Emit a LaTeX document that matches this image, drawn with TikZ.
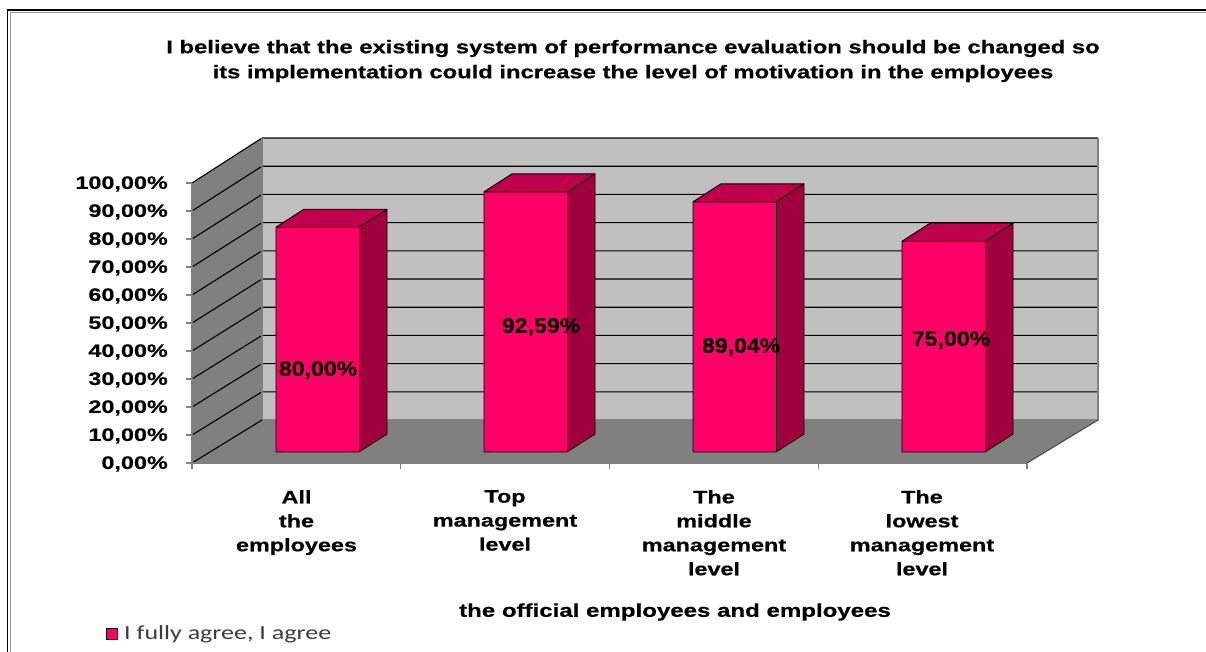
\documentclass[tikz,border=0pt]{standalone}
\usepackage{fontspec}
\newfontfamily\labf[FakeStretch=1.3,BoldFeatures={FakeBold=0.6}]{Liberation Sans}
\newfontfamily\barf[FakeStretch=1.1,BoldFeatures={FakeBold=0.6}]{Liberation Sans}
\newfontfamily\legf[FakeStretch=1.3]{Carlito}
\definecolor{wallback}{RGB}{192,192,192}
\definecolor{wallside}{RGB}{128,128,128}
\definecolor{floorc}{RGB}{128,128,128}
\definecolor{axisc}{RGB}{128,128,128}
\definecolor{barfront}{RGB}{255,0,102}
\definecolor{bartop}{RGB}{192,0,77}
\definecolor{barside}{RGB}{160,0,62}
\definecolor{legtext}{RGB}{60,60,60}
\tikzset{
  ylab/.style={anchor=east,inner sep=0pt,font=\labf\bfseries\fontsize{18}{18}\selectfont},
  catlab/.style={anchor=north,inner sep=0pt,align=center,font=\labf\bfseries\fontsize{18}{24}\selectfont},
  barlab/.style={inner sep=0pt,font=\barf\bfseries\fontsize{21}{21}\selectfont},
  grid3d/.style={black,line width=1.1pt},
  barface/.style={draw=black,line width=0.9pt,line join=round},
}
\begin{document}
\begin{tikzpicture}[x=1pt,y=-1pt]
\useasboundingbox (0,0) rectangle (1206,651);
\fill[white] (0,0) rectangle (1206,651);
% frame
\draw[black,line width=1.3pt] (7.5,700) -- (7.5,10) -- (1300,10);
\draw[gray!80,line width=1.3pt] (10.5,700) -- (10.5,12.5) -- (1300,12.5);
% title
\node[inner sep=0pt,align=center,font=\labf\bfseries\fontsize{18.3}{25}\selectfont] (title) at (633,61)
  {I believe that the existing system of performance evaluation should be changed so\\
   its implementation could increase the level of motivation in the employees};
% walls
\coordinate (f0) at (192,463);
\coordinate (f100) at (192,183);
\coordinate (b0) at (262,420);
\coordinate (b100) at (262,138);
\coordinate (br0) at (1098,420);
\coordinate (br100) at (1098,138);
\coordinate (fr0) at (1027,463);
\fill[wallside] (f0) -- (f100) -- (b100) -- (b0) -- cycle;
\fill[wallback] (b0) -- (b100) -- (br100) -- (br0) -- cycle;
\fill[floorc] (f0) -- (b0) -- (br0) -- (fr0) -- cycle;
% grid lines
\foreach \v in {10,20,...,100} {
  \draw[grid3d] (192,463-2.8*\v) -- (262,420-2.82*\v) -- (1098,420-2.82*\v);
}
\draw[axisc,line width=1.2pt] (b100) -- (b0) -- (br0) -- (br100);
\draw[black,line width=1.1pt] (f0) -- (b0);
\draw[axisc,line width=1.2pt] (b0) -- (br0);
\draw[black!70,line width=1.1pt] (br0) -- (fr0);
% axes
\draw[axisc,line width=1.3pt] (f100) -- (f0) -- (fr0);
\foreach \v in {0,10,...,100} {
  \draw[axisc,line width=1.2pt] (186,463-2.8*\v) -- (192,463-2.8*\v);
}
\foreach \x in {192,400.75,609.5,818.25,1027} {
  \draw[axisc,line width=1.2pt] (\x,463) -- (\x,469);
}
% y labels
\foreach \v/\t in {0/{0,00\%},10/{10,00\%},20/{20,00\%},30/{30,00\%},40/{40,00\%},50/{50,00\%},60/{60,00\%},70/{70,00\%},80/{80,00\%},90/{90,00\%},100/{100,00\%}} {
  \node[ylab] (y\v) at (168,464-2.8*\v) {\t};
}
% bars
\foreach \i/\xl/\val in {1/276/80.00,2/484/92.59,3/693/89.04,4/902/75.00} {
  \pgfmathsetmacro{\yt}{452-2.81*\val}
  \fill[barside] (\xl+83,452) -- (\xl+83,\yt) -- (\xl+111,\yt-18) -- (\xl+111,434) -- cycle;
  \fill[bartop] (\xl,\yt) -- (\xl+28,\yt-18) -- (\xl+111,\yt-18) -- (\xl+83,\yt) -- cycle;
  \fill[barfront] (\xl,452) rectangle (\xl+83,\yt);
  \draw[barface] (\xl,452) -- (\xl,\yt) -- (\xl+28,\yt-18) -- (\xl+111,\yt-18) -- (\xl+111,434) -- (\xl+83,452) -- cycle;
  \draw[barface] (\xl,\yt) -- (\xl+83,\yt) -- (\xl+111,\yt-18);
  \draw[barface] (\xl+83,\yt) -- (\xl+83,452);
}
\node[barlab] (l1) at (318,370) {80,00\%};
\node[barlab] (l2) at (541,327) {92,59\%};
\node[barlab] (l3) at (741,347) {89,04\%};
\node[barlab] (l4) at (951,340) {75,00\%};
% category labels
\node[catlab] (c1) at (296.5,490) {All\\the\\employees};
\node[catlab] (c2) at (505,490) {Top\\management\\level};
\node[catlab] (c3) at (714,490) {The\\middle\\management\\level};
\node[catlab] (c4) at (922,490) {The\\lowest\\management\\level};
% axis title
\node[inner sep=0pt,font=\labf\bfseries\fontsize{18.5}{20}\selectfont] (xt) at (675,612) {the official employees and employees};
% legend
\node[draw=black,line width=1pt,fill=barfront,minimum width=11pt,minimum height=11pt,inner sep=0pt] (lk) at (111.5,633.5) {};
\node[anchor=west,inner sep=0pt,text=legtext,font=\legf\fontsize{20}{20}\selectfont] (lt) at (124,634) {I fully agree, I agree};
\end{tikzpicture}
\end{document}
